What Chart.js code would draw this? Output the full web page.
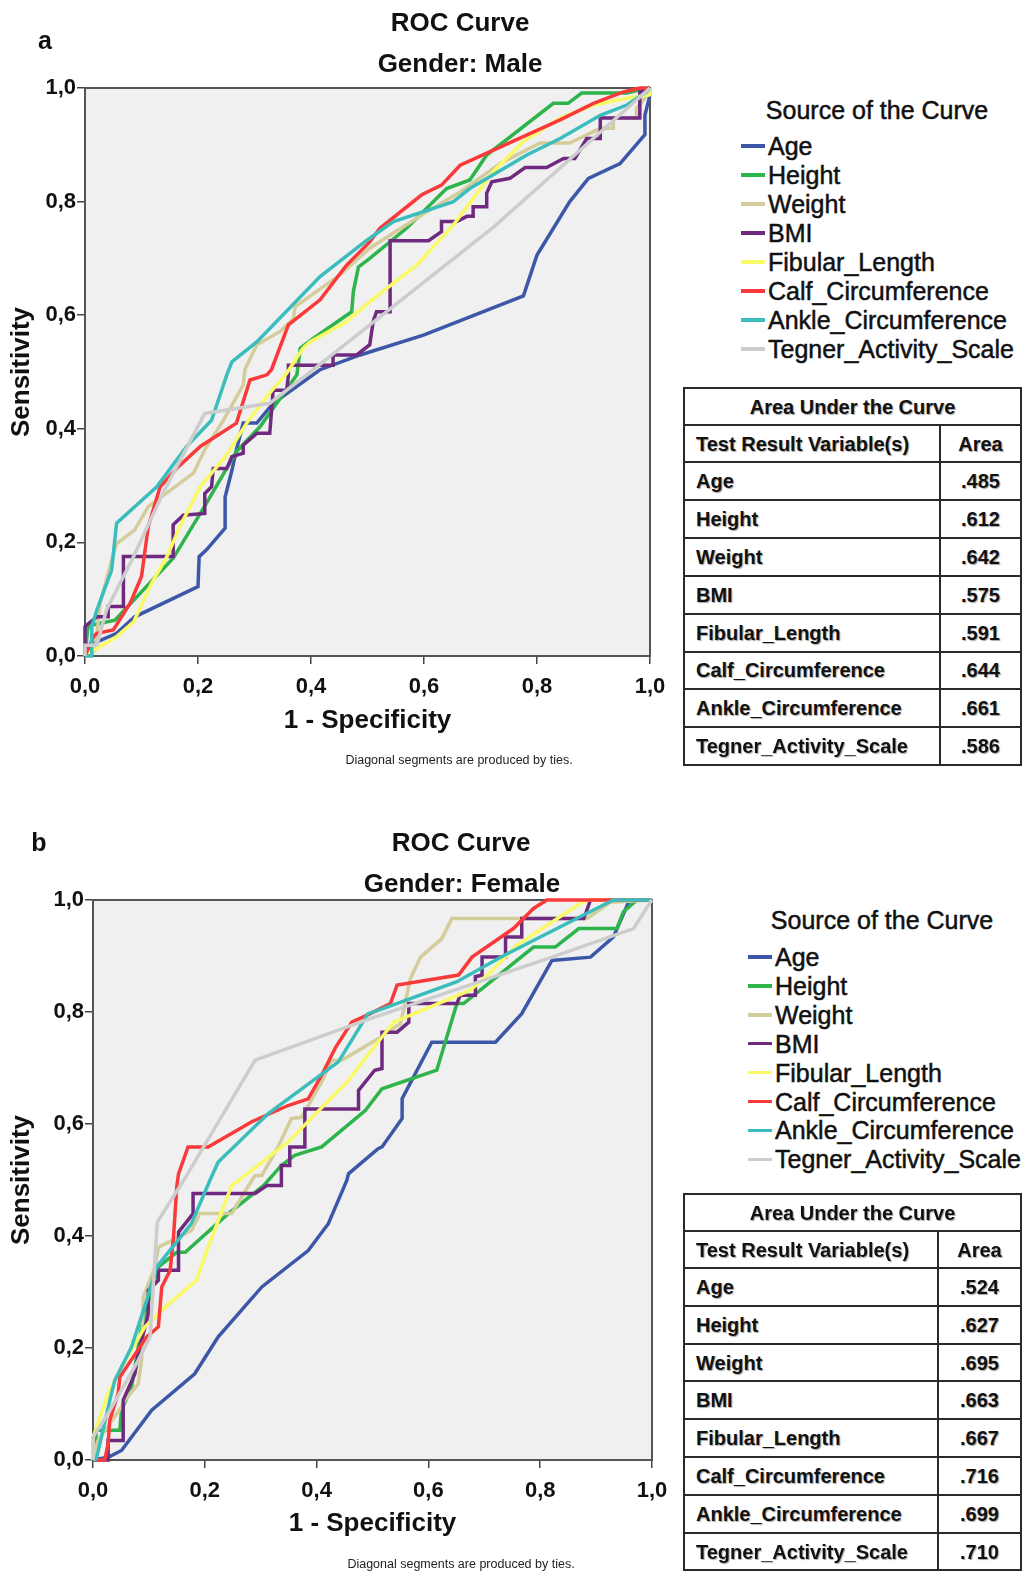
<!DOCTYPE html>
<html>
<head>
<meta charset="utf-8">
<script src="https://cdn.jsdelivr.net/npm/chart.js@4.4.1/dist/chart.umd.min.js"></script>
<style>
html,body{margin:0;padding:0;background:#fff;}
body{width:1022px;height:1571px;position:relative;overflow:hidden;font-family:'Liberation Sans',Arial,Helvetica,sans-serif;color:#111;}
canvas{position:absolute;left:0;}
.c{position:absolute;transform:translate(-50%,-50%);white-space:nowrap;line-height:1;}
.ttl{font-weight:bold;font-size:26px;}
.pl{font-weight:bold;font-size:25px;}
.foot{font-size:12.5px;color:#222;}
.legt{position:absolute;font-size:25px;line-height:1;white-space:nowrap;transform:translateY(-50%);-webkit-text-stroke:0.5px #111;}
.legline{position:absolute;height:3.5px;width:24px;margin-top:-1.75px;}
.hl{position:absolute;height:2px;background:#2a2a2a;margin-top:-1px;}
.vl{position:absolute;width:2px;background:#2a2a2a;margin-left:-1px;}
.tt{position:absolute;font-weight:bold;font-size:20px;line-height:1;white-space:nowrap;transform:translateY(-50%);text-shadow:1px 1px 1px rgba(0,0,0,0.35);}
.tc{transform:translate(-50%,-50%);}
</style>
</head>
<body>
<canvas id="chartA" width="680" height="780" style="top:0px"></canvas>
<canvas id="chartB" width="680" height="780" style="top:800px"></canvas>
<div id="overlay"></div>
<script>
// ---------- data ----------
const SERIES = ['Age','Height','Weight','BMI','Fibular_Length','Calf_Circumference','Ankle_Circumference','Tegner_Activity_Scale'];
const TICKS = [0, 0.2, 0.4, 0.6, 0.8, 1.0];
const maleAUC   = ['.485','.612','.642','.575','.591','.644','.661','.586'];
const femaleAUC = ['.524','.627','.695','.663','.667','.716','.699','.710'];

// Gender: Male  ([1 - specificity, sensitivity])
const maleAge = [[0,0],[0.01,0.02],[0.056,0.04],[0.088,0.069],[0.2,0.122],[0.202,0.175],[0.215,0.187],[0.248,0.225],[0.248,0.28],[0.26,0.327],[0.268,0.363],[0.28,0.41],[0.304,0.41],[0.333,0.445],[0.416,0.504],[0.487,0.53],[0.599,0.565],[0.776,0.634],[0.8,0.706],[0.858,0.8],[0.891,0.841],[0.947,0.867],[0.991,0.918],[0.991,0.952],[1,0.988],[1,1]];
const maleHeight = [[0,0],[0.005,0.05],[0.015,0.055],[0.053,0.063],[0.156,0.172],[0.215,0.269],[0.268,0.36],[0.31,0.404],[0.375,0.495],[0.381,0.542],[0.404,0.559],[0.472,0.606],[0.475,0.642],[0.484,0.685],[0.504,0.7],[0.569,0.753],[0.64,0.823],[0.681,0.838],[0.711,0.882],[0.829,0.973],[0.855,0.973],[0.879,0.991],[0.959,0.991],[0.988,0.998],[1,1]];
const maleWeight = [[0,0],[0.018,0.01],[0.027,0.093],[0.044,0.157],[0.056,0.198],[0.088,0.222],[0.112,0.263],[0.192,0.322],[0.212,0.363],[0.245,0.415],[0.28,0.477],[0.283,0.504],[0.304,0.548],[0.345,0.571],[0.369,0.594],[0.372,0.615],[0.451,0.671],[0.504,0.718],[0.605,0.782],[0.664,0.817],[0.735,0.867],[0.805,0.903],[0.858,0.903],[0.912,0.929],[0.935,0.929],[0.935,0.947],[0.976,0.947],[0.976,0.964],[1,0.993],[1,1]];
const maleBMI = [[0,0],[0,0.052],[0.021,0.069],[0.041,0.069],[0.041,0.087],[0.068,0.087],[0.068,0.175],[0.156,0.175],[0.156,0.231],[0.174,0.248],[0.212,0.251],[0.212,0.286],[0.224,0.298],[0.227,0.33],[0.251,0.33],[0.26,0.351],[0.28,0.357],[0.28,0.371],[0.304,0.392],[0.327,0.392],[0.333,0.468],[0.357,0.468],[0.36,0.495],[0.36,0.512],[0.439,0.512],[0.439,0.53],[0.481,0.53],[0.504,0.548],[0.51,0.589],[0.516,0.606],[0.54,0.606],[0.54,0.731],[0.608,0.731],[0.631,0.747],[0.631,0.765],[0.658,0.765],[0.676,0.774],[0.687,0.774],[0.687,0.791],[0.711,0.791],[0.711,0.815],[0.72,0.835],[0.752,0.841],[0.779,0.86],[0.817,0.86],[0.847,0.876],[0.867,0.876],[0.888,0.911],[0.912,0.911],[0.912,0.947],[0.982,0.947],[0.982,0.993],[1,1]];
const maleFibular = [[0,0],[0.003,0.005],[0.021,0.013],[0.056,0.034],[0.086,0.06],[0.118,0.128],[0.145,0.175],[0.168,0.228],[0.204,0.298],[0.251,0.354],[0.286,0.41],[0.322,0.457],[0.357,0.498],[0.386,0.542],[0.398,0.553],[0.463,0.589],[0.504,0.624],[0.587,0.688],[0.652,0.759],[0.723,0.853],[0.776,0.906],[0.841,0.947],[0.9,0.97],[0.959,0.982],[1,0.988],[1,1]];
const maleCalf = [[0,0],[0.015,0.034],[0.021,0.04],[0.05,0.046],[0.08,0.093],[0.1,0.14],[0.112,0.228],[0.133,0.298],[0.162,0.33],[0.204,0.369],[0.268,0.41],[0.292,0.486],[0.322,0.495],[0.33,0.504],[0.36,0.583],[0.416,0.627],[0.463,0.688],[0.504,0.729],[0.522,0.753],[0.596,0.812],[0.631,0.829],[0.664,0.864],[0.717,0.888],[0.841,0.944],[0.9,0.973],[0.953,0.993],[0.982,1],[1,1]];
const maleAnkle = [[0,0],[0.012,0],[0.012,0.052],[0.021,0.081],[0.047,0.151],[0.056,0.234],[0.127,0.298],[0.18,0.369],[0.224,0.415],[0.251,0.495],[0.26,0.518],[0.304,0.553],[0.416,0.668],[0.499,0.732],[0.546,0.765],[0.652,0.8],[0.681,0.823],[0.782,0.882],[0.841,0.911],[0.912,0.952],[0.959,0.97],[0.994,0.993],[1,1]];
const maleTegner = [[0,0],[0,0.019],[0.021,0.019],[0.038,0.081],[0.086,0.175],[0.139,0.289],[0.212,0.427],[0.327,0.445],[0.404,0.504],[0.723,0.755],[1,1]];

// Gender: Female
const femaleAge = [[0,0],[0.027,0.005],[0.051,0.017],[0.105,0.089],[0.182,0.154],[0.224,0.22],[0.302,0.309],[0.385,0.374],[0.421,0.422],[0.454,0.499],[0.457,0.511],[0.51,0.556],[0.517,0.559],[0.553,0.61],[0.553,0.645],[0.606,0.746],[0.72,0.746],[0.767,0.797],[0.821,0.892],[0.89,0.898],[0.931,0.934],[0.958,0.996],[0.96,1],[1,1]];
const femaleHeight = [[0,0],[0.004,0.023],[0.006,0.053],[0.048,0.053],[0.051,0.089],[0.069,0.13],[0.087,0.238],[0.105,0.303],[0.117,0.345],[0.15,0.371],[0.165,0.371],[0.242,0.44],[0.305,0.49],[0.337,0.526],[0.361,0.544],[0.409,0.559],[0.487,0.624],[0.517,0.663],[0.615,0.696],[0.651,0.815],[0.663,0.815],[0.788,0.916],[0.827,0.916],[0.869,0.949],[0.937,0.949],[0.949,0.979],[0.973,1],[1,1]];
const femaleWeight = [[0,0],[0,0.002],[0.009,0.035],[0.051,0.095],[0.057,0.107],[0.081,0.136],[0.087,0.18],[0.09,0.291],[0.111,0.345],[0.117,0.38],[0.153,0.398],[0.176,0.41],[0.191,0.44],[0.248,0.44],[0.284,0.499],[0.29,0.508],[0.302,0.508],[0.331,0.559],[0.355,0.61],[0.373,0.612],[0.409,0.675],[0.427,0.714],[0.445,0.714],[0.51,0.752],[0.55,0.779],[0.568,0.86],[0.586,0.898],[0.624,0.931],[0.642,0.967],[0.884,0.967],[0.925,0.996],[1,1]];
const femaleBMI = [[0,0],[0.027,0],[0.027,0.035],[0.054,0.035],[0.054,0.107],[0.075,0.154],[0.081,0.19],[0.099,0.261],[0.099,0.303],[0.117,0.321],[0.117,0.339],[0.153,0.339],[0.153,0.407],[0.179,0.44],[0.179,0.476],[0.29,0.476],[0.311,0.49],[0.337,0.49],[0.337,0.526],[0.352,0.526],[0.352,0.559],[0.379,0.559],[0.379,0.627],[0.475,0.627],[0.475,0.66],[0.504,0.696],[0.517,0.699],[0.517,0.764],[0.544,0.764],[0.565,0.782],[0.565,0.815],[0.651,0.815],[0.657,0.83],[0.684,0.83],[0.684,0.863],[0.696,0.866],[0.696,0.898],[0.738,0.898],[0.738,0.934],[0.767,0.934],[0.767,0.967],[0.878,0.967],[0.89,1],[1,1]];
const femaleFibular = [[0,0],[0,0.04],[0.027,0.119],[0.051,0.166],[0.093,0.238],[0.129,0.273],[0.185,0.321],[0.206,0.38],[0.248,0.49],[0.26,0.499],[0.349,0.568],[0.457,0.678],[0.496,0.729],[0.538,0.782],[0.675,0.839],[0.711,0.871],[0.758,0.919],[0.872,0.994],[0.884,1],[1,1]];
const femaleCalf = [[0,0],[0.021,0],[0.027,0.029],[0.03,0.071],[0.045,0.119],[0.048,0.148],[0.096,0.22],[0.117,0.238],[0.123,0.309],[0.138,0.339],[0.144,0.398],[0.15,0.49],[0.153,0.511],[0.17,0.559],[0.206,0.559],[0.284,0.604],[0.349,0.633],[0.385,0.645],[0.409,0.687],[0.433,0.735],[0.463,0.782],[0.496,0.797],[0.532,0.815],[0.544,0.848],[0.654,0.866],[0.678,0.898],[0.752,0.949],[0.788,0.985],[0.812,1],[1,1]];
const femaleAnkle = [[0,0],[0.006,0.002],[0.033,0.119],[0.039,0.142],[0.069,0.202],[0.096,0.285],[0.114,0.345],[0.176,0.422],[0.209,0.499],[0.224,0.532],[0.314,0.619],[0.439,0.711],[0.492,0.797],[0.51,0.803],[0.651,0.854],[0.735,0.901],[0.83,0.949],[0.913,0.991],[0.931,1],[1,1]];
const femaleTegner = [[0,0],[0,0.041],[0.027,0.083],[0.081,0.178],[0.102,0.22],[0.115,0.425],[0.162,0.499],[0.29,0.714],[0.496,0.788],[0.821,0.898],[0.967,0.949],[0.997,0.996],[1,1]];

// ---------- styles ----------
const COLORS = ['#3d57a8','#2db44b','#d4cd9b','#6f2a80','#fafa66','#fa3a3a','#3cbdbd','#cdcdcd'];
const fmt = v => (Math.round(v * 10) / 10).toFixed(1).replace('.', ',');

const framePlugin = {
  id: 'frame',
  beforeDraw(chart) {
    const a = chart.chartArea, ctx = chart.ctx;
    ctx.save();
    ctx.fillStyle = '#f0f0f0';
    ctx.fillRect(a.left, a.top, a.right - a.left, a.bottom - a.top);
    ctx.restore();
  },
  beforeDatasetsDraw(chart) {
    const a = chart.chartArea, ctx = chart.ctx;
    ctx.save();
    ctx.strokeStyle = '#555';
    ctx.lineWidth = 2;
    ctx.strokeRect(a.left, a.top, a.right - a.left, a.bottom - a.top);
    ctx.restore();
  }
};

function makeChart(id, seriesData, area, titleBottomPad) {
  const canvas = document.getElementById(id);
  const W = canvas.width, H = canvas.height;
  const datasets = seriesData.map((pts, i) => ({
    label: SERIES[i],
    data: pts.map(p => ({x: p[0], y: p[1]})),
    showLine: true,
    borderColor: COLORS[i],
    backgroundColor: COLORS[i],
    borderWidth: 3.5,
    pointRadius: 0,
    pointHoverRadius: 0,
    fill: false,
    tension: 0,
    clip: false,
    order: seriesData.length - i
  }));
  const tickFont = {family: "'Liberation Sans', Arial, sans-serif", size: 22, weight: 'bold'};
  const titleFont = {family: "'Liberation Sans', Arial, sans-serif", size: 26, weight: 'bold'};
  return new Chart(canvas, {
    type: 'scatter',
    data: {datasets},
    plugins: [framePlugin],
    options: {
      responsive: false,
      animation: false,
      devicePixelRatio: 1,
      layout: {padding: {top: area.top, right: W - area.right, left: 0, bottom: 0}},
      plugins: {legend: {display: false}, tooltip: {enabled: false}},
      scales: {
        x: {
          type: 'linear', min: 0, max: 1,
          afterBuildTicks: s => { s.ticks = TICKS.map(v => ({value: v})); },
          afterFit: s => { s.height = H - area.bottom; },
          ticks: {callback: fmt, font: tickFont, color: '#111', padding: 9.5, maxRotation: 0, autoSkip: false},
          grid: {drawOnChartArea: false, drawTicks: true, tickLength: 8, color: '#444', lineWidth: 1.5},
          border: {display: true, color: '#555', width: 2},
          title: {display: true, text: '1 - Specificity', font: titleFont, color: '#111', padding: {top: 0, bottom: titleBottomPad}}
        },
        y: {
          type: 'linear', min: 0, max: 1,
          afterBuildTicks: s => { s.ticks = TICKS.map(v => ({value: v})); },
          afterFit: s => { s.width = area.left; },
          ticks: {callback: fmt, font: tickFont, color: '#111', padding: 1, autoSkip: false},
          grid: {drawOnChartArea: false, drawTicks: true, tickLength: 8, color: '#444', lineWidth: 1.5},
          border: {display: true, color: '#555', width: 2},
          title: {display: true, text: 'Sensitivity', font: titleFont, color: '#111', padding: {top: 6.4, bottom: 0}}
        }
      }
    }
  });
}

makeChart('chartA',
  [maleAge, maleHeight, maleWeight, maleBMI, maleFibular, maleCalf, maleAnkle, maleTegner],
  {left: 85, top: 88, right: 650, bottom: 656}, 43.4);
makeChart('chartB',
  [femaleAge, femaleHeight, femaleWeight, femaleBMI, femaleFibular, femaleCalf, femaleAnkle, femaleTegner],
  {left: 93, top: 100, right: 652, bottom: 660}, 40.4);

// ---------- overlay text, legends, tables ----------
const ov = document.getElementById('overlay');
function add(html) { ov.insertAdjacentHTML('beforeend', html); }

function panelText(p) {
  add(`<div class="c pl" style="left:${p.letterX}px;top:${p.letterY}px">${p.letter}</div>`);
  add(`<div class="c ttl" style="left:${p.titleX}px;top:${p.titleY}px">ROC Curve</div>`);
  add(`<div class="c ttl" style="left:${p.subX}px;top:${p.subY}px">${p.sub}</div>`);
  add(`<div class="c foot" style="left:${p.footX}px;top:${p.footY}px">Diagonal segments are produced by ties.</div>`);
}
panelText({letter:'a', letterX:45, letterY:40, titleX:460, titleY:22, sub:'Gender: Male', subX:460, subY:63, footX:459, footY:760});
panelText({letter:'b', letterX:39, letterY:842, titleX:461, titleY:842, sub:'Gender: Female', subX:462, subY:883, footX:461, footY:1564});

function legend(l) {
  add(`<div class="c" style="left:${l.titleX}px;top:${l.titleY}px;font-size:25px;-webkit-text-stroke:0.5px #111">Source of the Curve</div>`);
  SERIES.forEach((name, i) => {
    const y = l.y0 + i * l.dy;
    add(`<div class="legline" style="left:${l.lineX}px;top:${y}px;background:${COLORS[i]}"></div>`);
    add(`<div class="legt" style="left:${l.textX}px;top:${y}px">${name}</div>`);
  });
}
legend({titleX:877, titleY:110, lineX:741, textX:768, y0:146, dy:29});
legend({titleX:882, titleY:920, lineX:748, textX:775, y0:957, dy:28.9});

function table(t, auc) {
  const L = 684, R = 1021;
  const bounds = [t.top, t.top + 37, t.top + 74];
  for (let i = 1; i <= SERIES.length; i++) bounds.push(t.top + 74 + i * t.rowH);
  const bottom = bounds[bounds.length - 1];
  bounds.forEach(y => add(`<div class="hl" style="left:${L - 1}px;width:${R - L + 2}px;top:${y}px"></div>`));
  add(`<div class="vl" style="left:${L}px;top:${t.top}px;height:${bottom - t.top}px"></div>`);
  add(`<div class="vl" style="left:${R}px;top:${t.top}px;height:${bottom - t.top}px"></div>`);
  add(`<div class="vl" style="left:${t.div}px;top:${t.top + 37}px;height:${bottom - t.top - 37}px"></div>`);
  const ac = (t.div + R) / 2;
  add(`<div class="tt tc" style="left:${(L + R) / 2}px;top:${t.top + 18.5}px">Area Under the Curve</div>`);
  add(`<div class="tt" style="left:696px;top:${t.top + 55.5}px">Test Result Variable(s)</div>`);
  add(`<div class="tt tc" style="left:${ac}px;top:${t.top + 55.5}px">Area</div>`);
  SERIES.forEach((name, i) => {
    const yc = t.top + 74 + (i + 0.5) * t.rowH;
    add(`<div class="tt" style="left:696px;top:${yc}px">${name}</div>`);
    add(`<div class="tt tc" style="left:${ac}px;top:${yc}px">${auc[i]}</div>`);
  });
}
table({top:388, rowH:37.9, div:940}, maleAUC);
table({top:1194, rowH:37.8, div:938}, femaleAUC);
</script>
</body>
</html>
